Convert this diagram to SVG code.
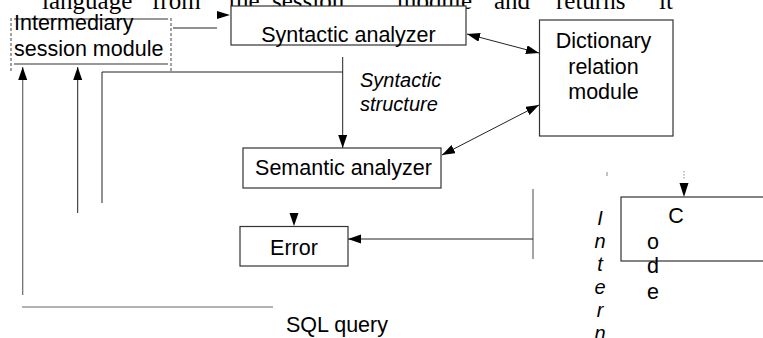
<svg xmlns="http://www.w3.org/2000/svg" width="763" height="338" viewBox="0 0 763 338">
<style>
.box{fill:#fff;stroke:#333;stroke-width:1.2}
.ln{fill:none;stroke:#222;stroke-width:1}
.gl{fill:none;stroke:#666;stroke-width:1.2}
.t{font-family:"Liberation Sans",Arial,sans-serif;font-size:21.5px;fill:#000}
.it{font-family:"Liberation Sans",Arial,sans-serif;font-size:20px;font-style:italic;fill:#000}
.sf{font-family:"Liberation Serif","Times New Roman",serif;font-size:25px;fill:#000}
.ah{fill:#000}
</style>
<defs>
<marker id="arr" markerUnits="userSpaceOnUse" markerWidth="14" markerHeight="10" refX="13" refY="4.5" orient="auto-start-reverse">
<path d="M0,0 L13,4.5 L0,9 z" fill="#000"/>
</marker>
</defs>

<g id="top-text">
<text class="sf" y="9"><tspan x="42">language</tspan><tspan x="152">from</tspan><tspan x="229">the</tspan><tspan x="272">session</tspan><tspan x="397">module</tspan><tspan x="494">and</tspan><tspan x="556">returns</tspan><tspan x="659">it</tspan></text>
</g>

<g id="syntactic">
<rect class="box" x="231" y="6" width="235" height="39"/>
<text class="t" x="348.5" y="42" text-anchor="middle">Syntactic analyzer</text>
</g>

<g id="connectors">
<line class="ln" x1="173" y1="28" x2="217" y2="28"/>
<polygon class="ah" points="217,11 230,15 217,19"/>
<line class="ln" x1="467" y1="34" x2="539" y2="53" marker-start="url(#arr)" marker-end="url(#arr)"/>
<line class="ln" x1="442" y1="155" x2="539" y2="105" marker-start="url(#arr)" marker-end="url(#arr)"/>
<line class="ln" x1="342.7" y1="57" x2="342.7" y2="148" marker-end="url(#arr)"/>
<polyline class="ln" points="102,203 102,72 342.7,72"/>
<line class="gl" x1="22.7" y1="295" x2="22.7" y2="67" marker-end="url(#arr)"/>
<line class="ln" x1="77.7" y1="213" x2="77.7" y2="67" marker-end="url(#arr)"/>
<line class="gl" x1="22" y1="307" x2="273" y2="307"/>
<polygon class="ah" points="289.5,213 298.5,213 294,226"/>
<line class="gl" x1="533" y1="189" x2="533" y2="259"/>
<line class="ln" x1="533" y1="239" x2="348" y2="239" marker-end="url(#arr)"/>
<line x1="607" y1="172" x2="607" y2="176" stroke="#888" stroke-width="1"/>
<line x1="684" y1="171" x2="684" y2="179" stroke="#888" stroke-width="1" stroke-dasharray="1.5,1.5"/>
<polygon class="ah" points="679.5,183 688.5,183 684,197"/>
</g>

<g id="intermediary">
<line x1="11" y1="18" x2="11" y2="72" stroke="#444" stroke-width="1" stroke-dasharray="3,2"/>
<line x1="171" y1="18" x2="171" y2="72" stroke="#444" stroke-width="1" stroke-dasharray="3,2"/>
<line x1="14" y1="19" x2="168" y2="19" stroke="#333" stroke-width="1.2"/>
<line x1="14" y1="64" x2="168" y2="64" stroke="#333" stroke-width="1.2"/>
<text class="t" x="14" y="30">Intermediary</text>
<text class="t" x="14" y="56">session module</text>
</g>

<g id="dictionary">
<rect class="box" x="539.5" y="20" width="133.5" height="116"/>
<text class="t" x="603.5" y="48" text-anchor="middle">Dictionary</text>
<text class="t" x="603.5" y="74" text-anchor="middle">relation</text>
<text class="t" x="603.5" y="99" text-anchor="middle">module</text>
</g>

<g id="syntactic-structure">
<text class="it" x="360" y="87">Syntactic</text>
<text class="it" x="360" y="111">structure</text>
</g>

<g id="semantic">
<rect class="box" x="243" y="148" width="198" height="40"/>
<text class="t" x="343.5" y="175" text-anchor="middle">Semantic analyzer</text>
</g>

<g id="error">
<rect class="box" x="240" y="226.5" width="108" height="39.5"/>
<text class="t" x="294" y="255" text-anchor="middle">Error</text>
</g>

<g id="code">
<rect class="box" x="621" y="197" width="160" height="64"/>
<text class="t" x="676" y="223" text-anchor="middle">C</text>
<text class="t" x="653" y="249" text-anchor="middle">o</text>
<text class="t" x="653" y="273" text-anchor="middle">d</text>
<text class="t" x="653" y="299" text-anchor="middle">e</text>
</g>

<g id="intern">
<text class="it" x="600" y="225" text-anchor="middle">I</text>
<text class="it" x="600" y="248" text-anchor="middle">n</text>
<text class="it" x="600" y="271" text-anchor="middle">t</text>
<text class="it" x="600" y="294" text-anchor="middle">e</text>
<text class="it" x="600" y="317" text-anchor="middle">r</text>
<text class="it" x="600" y="340" text-anchor="middle">n</text>
</g>

<g id="sql">
<text class="t" x="286" y="332">SQL query</text>
</g>
</svg>
